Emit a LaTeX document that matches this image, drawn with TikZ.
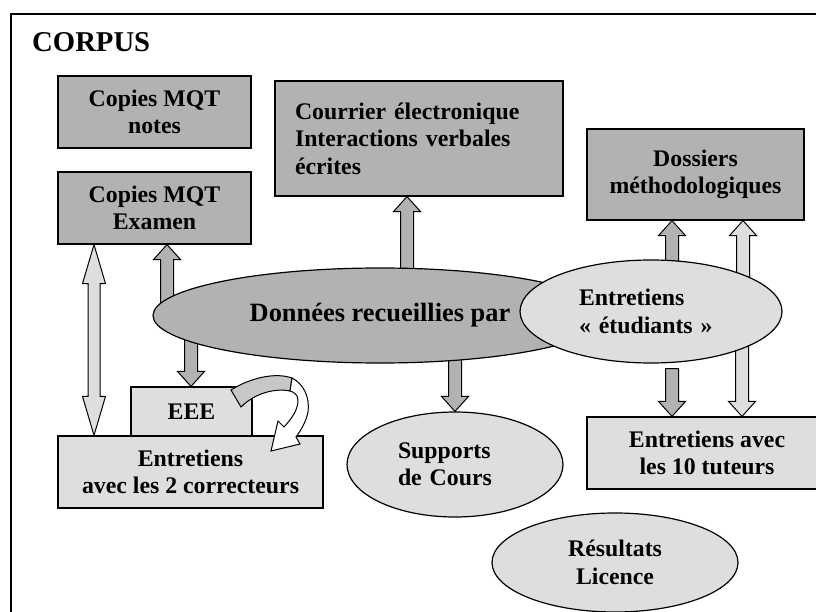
\documentclass[tikz,border=0pt]{standalone}
\usepackage{fontspec}
\setmainfont{Liberation Serif}
\usepackage{tikz}
\usetikzlibrary{positioning}
\usetikzlibrary{calc}
\usetikzlibrary{shapes.geometric}
\usepackage{xcolor}
\pgfdeclarelayer{background}
\pgfsetlayers{background,main}
\definecolor{dkfill}{gray}{0.70}
\definecolor{ltfill}{gray}{0.87}
\definecolor{midfill}{gray}{0.78}
\tikzset{
	txt/.style={font=\fontsize{23.8}{27.5}\selectfont\bfseries},
	boxdk/.style={txt, draw, line width=1.2pt, fill=dkfill, align=center, inner sep=0pt},
	boxlt/.style={boxdk, fill=ltfill},
	elldk/.style={txt, ellipse, draw, line width=1.2pt, fill=dkfill, align=center, inner sep=0pt},
	elllt/.style={elldk, fill=ltfill},
	arrowline/.style={draw, line width=1pt, line join=miter},
}
\newcommand{\blkarrow}[3]{%
	\path (#2) coordinate (ba1) (#3) coordinate (ba2);
	\path ($(ba2)!15pt!(ba1)$) coordinate (ba3);
	\draw[arrowline, fill=#1] ($(ba1)!6.5pt!90:(ba2)$) -- ($(ba3)!6.5pt!-90:(ba1)$) -- ($(ba3)!13.5pt!-90:(ba1)$) -- (ba2)
		-- ($(ba3)!13.5pt!90:(ba1)$) -- ($(ba3)!6.5pt!90:(ba1)$) -- ($(ba1)!6.5pt!-90:(ba2)$) -- cycle;}
\newcommand{\dblarrow}[3]{%
	\path (#2) coordinate (da1) (#3) coordinate (da2);
	\path ($(da1)!39pt!(da2)$) coordinate (da3) ($(da2)!39pt!(da1)$) coordinate (da4);
	\draw[arrowline, fill=#1] (da1) -- ($(da3)!11.5pt!90:(da2)$) -- ($(da3)!6pt!90:(da2)$) -- ($(da4)!6pt!-90:(da1)$) -- ($(da4)!11.5pt!-90:(da1)$) -- (da2)
		-- ($(da4)!11.5pt!90:(da1)$) -- ($(da4)!6pt!90:(da1)$) -- ($(da3)!6pt!-90:(da2)$) -- ($(da3)!11.5pt!-90:(da2)$) -- cycle;}

\begin{document}
\begin{tikzpicture}[x=1pt, y=-1pt]
	\useasboundingbox (0,0) rectangle (816,612);
	\draw[line width=1.3pt] (840,14) -- (11,14) -- (11,640);
	\node[anchor=base west, inner sep=0pt, font=\fontsize{28.7}{30}\selectfont\bfseries] (corpus) at (32,52) {CORPUS};

	\node[boxdk, minimum width=193pt, minimum height=72pt] (cmn) at (154.5,112) {Copies MQT\\notes};
	\node[boxdk, minimum width=193pt, minimum height=72pt] (cme) at (154.5,208) {Copies MQT\\Examen};
	\node[boxdk, minimum height=115pt, text width=248pt, inner xsep=20pt, align=left] (cou) at (419,138.5) {Courrier électronique\\Interactions verbales\\écrites};
	\node[boxdk, minimum width=217pt, minimum height=91pt] (dos) at (695.5,174.5) {Dossiers\\méthodologiques};

	\node[elldk, minimum width=454pt, minimum height=95pt, font=\fontsize{26.4}{30}\selectfont\bfseries] (don) at (380,315.5) {Données recueillies par};
	\node[elllt, minimum width=262pt, minimum height=103pt, text width=144pt, align=left] (ent) at (651,311.5) {Entretiens\\« étudiants »};

	\node[boxlt, minimum width=121pt, minimum height=49pt] (eee) at (191.5,411.5) {EEE};
	\node[boxlt, minimum width=265pt, minimum height=72pt] (cor) at (190.5,472) {Entretiens\\avec les 2 correcteurs};
	\node[elllt, minimum width=216pt, minimum height=105pt, text width=114pt, align=left] (sup) at (455,464.5) {Supports\\de Cours};
	\node[boxlt, minimum width=240pt, minimum height=72pt] (tut) at (707,453) {Entretiens avec\\les 10 tuteurs};
	\node[elllt, minimum width=246pt, minimum height=99pt] (res) at (615,562.5) {Résultats\\Licence};

	\coordinate (t1) at ([xshift=12.5pt]cme.south);
	\coordinate (t2) at ([xshift=-60.5pt]cme.south);
	\coordinate (t3) at ([xshift=-12pt]cou.south);
	\coordinate (t4) at ([xshift=-0.5pt]eee.north);
	\coordinate (t6) at ([xshift=-23.5pt]dos.south);
	\coordinate (t7) at ([xshift=47.5pt]dos.south);
	\coordinate (t8) at ([xshift=-35pt]tut.north);
	\coordinate (t9) at ([xshift=35pt]tut.north);
	\begin{pgfonlayer}{background}
		\blkarrow{dkfill}{don.center -| t1}{t1}
		\dblarrow{ltfill}{t2}{cor.north -| t2}
		\blkarrow{dkfill}{don.center -| t3}{t3}
		\blkarrow{dkfill}{don.center -| t4}{t4}
		\blkarrow{dkfill}{don.center -| sup.north}{sup.north}
		\blkarrow{dkfill}{ent.center -| t6}{t6}
		\blkarrow{ltfill}{ent.center -| t7}{t7}
		\blkarrow{dkfill}{$(ent.south -| t8)+(0,5)$}{t8}
		\blkarrow{ltfill}{ent.center -| t9}{t9}
	\end{pgfonlayer}

	\draw[arrowline, fill=midfill] (231,390) .. controls (250,378) and (275,372) .. (292,378) -- (290,391) .. controls (275,388) and (255,393) .. (241,407) -- cycle;
	\draw[arrowline, fill=white] (292,378) .. controls (304,384) and (310,398) .. (308,412) .. controls (306,422) and (301,430) .. (296,437) -- (300,444) -- (271,451) -- (278,421) -- (284,427) .. controls (292,418) and (298,410) .. (298,400) .. controls (298,395) and (294,392) .. (290,391) -- cycle;
\end{tikzpicture}
\end{document}
